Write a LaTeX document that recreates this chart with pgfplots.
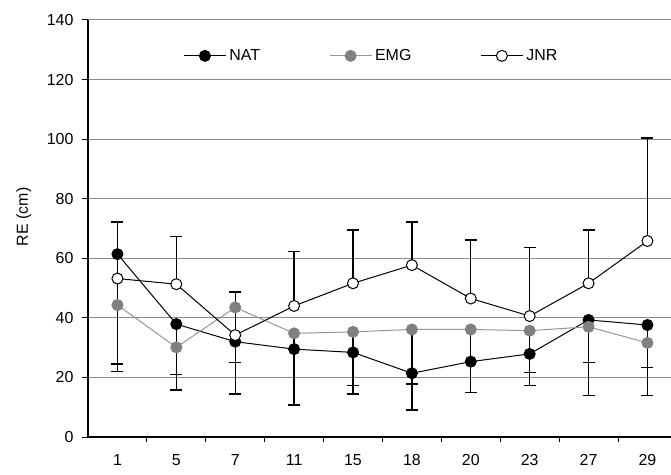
\documentclass[border=0pt]{standalone}
\usepackage{fontspec}
\setmainfont{Liberation Sans}
\usepackage{pgfplots}
\usepackage{pgfplotstable}
\pgfplotsset{compat=1.18}

% x = category index; columns: value and error (NAT/EMG down, JNR up)
\pgfplotstableread{
x  nat   natE  emg   emgE  jnr   jnrE
0  61.4  39.5  44.3  19.8  53.2  19.0
1  37.9  22.1  30.1   9.0  51.3  16.1
2  32.0  17.6  43.5  18.5  34.2  14.5
3  29.5  18.8  34.8  24.1  44.0  18.2
4  28.4  14.0  35.3  18.1  51.6  17.9
5  21.4  12.3  36.1  18.3  57.7  14.5
6  25.3  10.4  36.1  21.2  46.5  19.6
7  27.9  10.7  35.7  14.0  40.6  23.1
8  39.3  25.4  37.0  11.9  51.6  17.9
9  37.6  23.7  31.6   8.2  65.8  34.6
}\data

\definecolor{emgmark}{RGB}{128,128,128}
\definecolor{emgline}{RGB}{150,150,150}

\begin{document}
\begin{tikzpicture}[font=\fontsize{16}{19}\selectfont]
\begin{axis}[
    scale only axis,
    width=583bp, height=417bp,
    at={(0,0)}, anchor=south west,
    xmin=-0.5, xmax=9.4,
    ymin=0, ymax=140,
    ytick={0,20,...,140},
    xtick={0,...,9},
    xticklabels={1,5,7,11,15,18,20,23,27,29},
    minor xtick={0.5,1.5,...,8.5},
    major x tick style={draw=none},
    minor tick length=5bp,
    major tick length=6bp,
    tick align=outside,
    tick style={black, line width=1bp},
    x tick label style={yshift=-8bp},
    y tick label style={xshift=-5bp},
    axis x line*=bottom,
    axis y line*=left,
    axis line style={black, line width=1.2bp},
    ymajorgrids,
    grid style={black!45, line width=1bp},
    /pgf/number format/assume math mode=true,
    ylabel={RE (cm)},
    ylabel style={at={(axis description cs:-0.110,0.528)}, anchor=center},
    legend columns=3,
    legend style={at={(axis description cs:0.487,0.914)}, anchor=center,
        draw=none, fill=none, font=\fontsize{16}{19}\selectfont,
        /tikz/every even column/.append style={column sep=66bp},
        nodes={inner xsep=3bp}},
    legend image code/.code={
        \draw[mark repeat=2, mark phase=2] plot coordinates {(0bp,0bp) (21bp,0bp) (42bp,0bp)};},
    error bars/error bar style={black, line width=1.3bp},
    error bars/error mark options={black, rotate=90, mark size=6bp, line width=1.3bp},
]
\addplot[black, line width=1bp, mark=*, mark size=5.5bp,
    mark options={fill=black},
    error bars/.cd, y dir=minus, y explicit]
    table[x=x, y=nat, y error=natE] {\data};
\addplot[emgline, line width=1bp, mark=*, mark size=5.5bp,
    mark options={draw=emgmark, fill=emgmark},
    error bars/.cd, y dir=minus, y explicit]
    table[x=x, y=emg, y error=emgE] {\data};
\addplot[black, line width=1bp, mark=*, mark size=5.5bp,
    mark options={fill=white},
    error bars/.cd, y dir=plus, y explicit]
    table[x=x, y=jnr, y error=jnrE] {\data};
\legend{NAT, EMG, JNR}
\end{axis}
\pgfresetboundingbox
\path (-88bp,-38bp) rectangle (583bp,437bp);
\end{tikzpicture}
\end{document}
